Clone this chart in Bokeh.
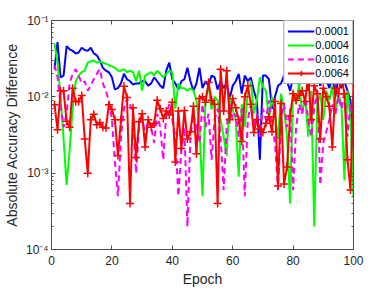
from bokeh.plotting import figure
from bokeh.models import Range1d, FixedTicker, LinearAxis, LogAxis, Legend, LegendItem
from bokeh.embed import file_html
from bokeh.resources import INLINE

epochs = list(range(1, 101))
series_labels = ["0.0001", "0.0004", "0.0016", "0.0064"]

diff_0001 = [0.023, 0.052, 0.018, 0.019, 0.046, 0.042, 0.040, 0.037, 0.038, 0.044,
             0.041, 0.040, 0.044, 0.037, 0.035, 0.030, 0.024, 0.022, 0.021, 0.018,
             0.0125, 0.013, 0.015, 0.020, 0.017, 0.016, 0.0145, 0.015, 0.015, 0.016,
             0.016, 0.014, 0.015, 0.018, 0.016, 0.014, 0.013, 0.022, 0.028, 0.017,
             0.015, 0.0125, 0.016, 0.017, 0.024, 0.016, 0.012, 0.015, 0.024, 0.013,
             0.016, 0.014, 0.019, 0.018, 0.0125, 0.016, 0.013, 0.015, 0.0095, 0.014,
             0.016, 0.020, 0.011, 0.019, 0.016, 0.018, 0.012, 0.009, 0.0015, 0.019,
             0.019, 0.017, 0.007, 0.010, 0.014, 0.015, 0.019, 0.016, 0.012, 0.018,
             0.018, 0.014, 0.025, 0.035, 0.012, 0.020, 0.016, 0.019, 0.014, 0.022,
             0.017, 0.013, 0.019, 0.010, 0.018, 0.013, 0.016, 0.012, 0.009, 0.002]

diff_0004 = [0.050, 0.028, 0.010, 0.0028, 0.0007, 0.002, 0.007, 0.016, 0.019, 0.021,
             0.022, 0.028, 0.029, 0.030, 0.028, 0.029, 0.028, 0.027, 0.026, 0.025,
             0.024, 0.022, 0.022, 0.023, 0.021, 0.022, 0.021, 0.016, 0.022, 0.012,
             0.019, 0.020, 0.021, 0.019, 0.022, 0.020, 0.018, 0.020, 0.022, 0.021,
             0.007, 0.015, 0.013, 0.013, 0.012, 0.013, 0.012, 0.009, 0.004, 0.0005,
             0.0095, 0.014, 0.0068, 0.010, 0.009, 0.005, 0.003, 0.0017, 0.010, 0.0068,
             0.005, 0.0009, 0.008, 0.004, 0.012, 0.016, 0.006, 0.009, 0.018, 0.0135,
             0.012, 0.005, 0.010, 0.006, 0.0028, 0.011, 0.007, 0.003, 0.0004, 0.012,
             0.008, 0.015, 0.006, 0.010, 0.003, 0.012, 0.0002, 0.008, 0.011, 0.005,
             0.012, 0.009, 0.014, 0.006, 0.011, 0.008, 0.0008, 0.012, 0.005, 0.0005]

diff_0016 = [0.026, 0.018, 0.008, 0.004, 0.006, 0.015, 0.020, 0.023, 0.019, 0.015,
             0.016, 0.012, 0.014, 0.017, 0.020, 0.023, 0.015, 0.012, 0.0088, 0.005,
             0.0014, 0.0005, 0.003, 0.007, 0.0095, 0.008, 0.006, 0.001, 0.004, 0.006,
             0.003, 0.005, 0.004, 0.0025, 0.006, 0.004, 0.0015, 0.006, 0.008, 0.005,
             0.003, 0.0005, 0.002, 0.004, 0.0002, 0.003, 0.006, 0.004, 0.0025, 0.008,
             0.004, 0.006, 0.0015, 0.005, 0.007, 0.003, 0.0006, 0.004, 0.008, 0.005,
             0.006, 0.003, 0.007, 0.0005, 0.005, 0.008, 0.004, 0.006, 0.003, 0.007,
             0.005, 0.009, 0.004, 0.0025, 0.0006, 0.005, 0.008, 0.004, 0.007, 0.0006,
             0.004, 0.008, 0.006, 0.010, 0.005, 0.003, 0.007, 0.012, 0.0007, 0.0025,
             0.0035, 0.005, 0.008, 0.006, 0.010, 0.007, 0.012, 0.003, 0.008, 0.005]

diff_0064 = [0.0079, 0.0037, 0.012, 0.012, 0.0048, 0.004, 0.013, 0.0087, 0.0087, 0.0104,
             0.0028, 0.001, 0.005, 0.0059, 0.0043, 0.0046, 0.004, 0.0039, 0.0079, 0.0068,
             0.005, 0.0017, 0.005, 0.0138, 0.0098, 0.0004, 0.0072, 0.0016, 0.0047, 0.006,
             0.0022, 0.005, 0.004, 0.0045, 0.009, 0.007, 0.0052, 0.0065, 0.0058, 0.0085,
             0.0014, 0.0065, 0.0021, 0.0066, 0.0028, 0.0035, 0.0075, 0.0018, 0.0095, 0.010,
             0.0085, 0.0155, 0.009, 0.008, 0.0004, 0.023, 0.0065, 0.022, 0.005, 0.0095,
             0.0072, 0.005, 0.0026, 0.010, 0.014, 0.008, 0.0034, 0.005, 0.0038, 0.0034,
             0.0045, 0.0055, 0.0035, 0.0087, 0.00068, 0.0082, 0.00072, 0.0012, 0.0056, 0.011,
             0.009, 0.0105, 0.012, 0.0087, 0.019, 0.005, 0.014, 0.011, 0.0028, 0.013,
             0.010, 0.0075, 0.0022, 0.013, 0.011, 0.018, 0.011, 0.0015, 0.0006, 0.015]

x_ticks = [0, 20, 40, 60, 80, 100]
y_ticks = [1e-4, 1e-3, 1e-2, 1e-1]
y_tick_labels = ["10\u207b\u2074", "10\u207b\u00b3", "10\u207b\u00b2", "10\u207b\u00b9"]
y_minor = [m * 10.0 ** e for e in (-4, -3, -2) for m in range(2, 10)]

FONT = "Liberation Sans"
AX = "#4d4d4d"
TXT = "#262626"

p = figure(frame_width=302, frame_height=229, output_backend="svg", toolbar_location=None,
           x_range=Range1d(0, 100), y_range=Range1d(1e-4, 1e-1), y_axis_type="log",
           min_border_left=42, min_border_right=28, min_border_top=20, min_border_bottom=38)
p.grid.visible = False
p.outline_line_color = AX
p.background_fill_color = "white"

xt = FixedTicker(ticks=x_ticks)
yt = FixedTicker(ticks=y_ticks, minor_ticks=y_minor)
ylab = {t: l for t, l in zip(y_ticks, y_tick_labels)}

def style(ax):
    ax.axis_line_color = AX
    ax.major_tick_line_color = AX
    ax.minor_tick_line_color = AX
    ax.major_tick_in = 4
    ax.major_tick_out = 0
    ax.minor_tick_in = 2
    ax.minor_tick_out = 0
    ax.major_label_text_font = FONT
    ax.major_label_text_color = TXT
    ax.major_label_text_font_size = "12px"
    ax.axis_label_text_font = FONT
    ax.axis_label_text_font_style = "normal"
    ax.axis_label_text_color = TXT
    ax.axis_label_text_font_size = "14px"

xa = p.xaxis[0]
xa.ticker = xt
style(xa)
xa.major_label_standoff = 6
xa.axis_label = "Epoch"
xa.axis_label_standoff = 3

ya = p.yaxis[0]
ya.ticker = yt
ya.major_label_overrides = ylab
style(ya)
ya.major_label_standoff = 3
ya.axis_label = "Absolute Accuracy Difference"
ya.axis_label_standoff = 3

top = LinearAxis(ticker=FixedTicker(ticks=x_ticks))
style(top)
top.major_label_text_font_size = "1px"
top.major_label_text_alpha = 0
top.major_label_standoff = 0
top.axis_label_standoff = 0
top.minor_tick_line_color = None
p.add_layout(top, "above")

right = LogAxis(ticker=FixedTicker(ticks=y_ticks, minor_ticks=y_minor))
style(right)
right.major_label_text_font_size = "1px"
right.major_label_text_alpha = 0
right.major_label_standoff = 0
right.axis_label_standoff = 0
p.add_layout(right, "right")

r1 = p.line(epochs, diff_0001, line_color="#0000ff", line_width=2)
r2 = p.line(epochs, diff_0004, line_color="#00ff00", line_width=2)
r3 = p.line(epochs, diff_0016, line_color="#ff00ff", line_width=2, line_dash="6 4")
r4 = p.line(epochs, diff_0064, line_color="#ff0000", line_width=2)
r4m = p.scatter(epochs, diff_0064, marker="cross", size=8, line_color="#ff0000", line_width=1.5)

legend = Legend(items=[LegendItem(label=series_labels[0], renderers=[r1]),
                       LegendItem(label=series_labels[1], renderers=[r2]),
                       LegendItem(label=series_labels[2], renderers=[r3]),
                       LegendItem(label=series_labels[3], renderers=[r4, r4m])],
                location="top_right", margin=0, padding=3, spacing=0,
                glyph_width=27, glyph_height=14, label_height=14,
                label_text_font=FONT, label_text_font_size="11px", label_text_color="black",
                label_standoff=1, border_line_color=AX, border_line_width=1,
                background_fill_color="white", background_fill_alpha=1)
p.add_layout(legend)

open("out.html", "w").write(file_html(p, INLINE))
